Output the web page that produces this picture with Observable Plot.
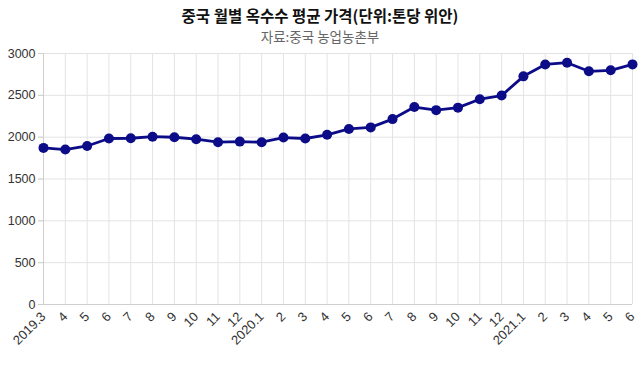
<!DOCTYPE html>
<html>
<head>
<meta charset="utf-8">
<script src="https://cdn.jsdelivr.net/npm/d3@7"></script>
<script src="https://cdn.jsdelivr.net/npm/@observablehq/plot@0.6"></script>
<style>
  html, body { margin: 0; padding: 0; background: #fff; }
  body { width: 640px; height: 366px; overflow: hidden; font-family: "Liberation Sans", Arial, "Noto Sans CJK KR", sans-serif; }
  #title { height: 28px; line-height: 30px; text-align: center; font-size: 15.5px; font-weight: bold; color: #111; font-family: "Noto Sans CJK KR", sans-serif; }
  #subtitle { height: 17px; line-height: 17px; text-align: center; font-size: 13.5px; color: #666; font-family: "Noto Sans CJK KR", sans-serif; }
</style>
</head>
<body>
<div id="title">중국 월별 옥수수 평균 가격(단위:톤당 위안)</div>
<div id="subtitle">자료:중국 농업농촌부</div>
<div id="chart"></div>
<script>
const months = ["2019.3","2019.4","2019.5","2019.6","2019.7","2019.8","2019.9","2019.10","2019.11","2019.12",
  "2020.1","2020.2","2020.3","2020.4","2020.5","2020.6","2020.7","2020.8","2020.9","2020.10","2020.11","2020.12",
  "2021.1","2021.2","2021.3","2021.4","2021.5","2021.6"];
const tickLabels = ["2019.3","4","5","6","7","8","9","10","11","12",
  "2020.1","2","3","4","5","6","7","8","9","10","11","12",
  "2021.1","2","3","4","5","6"];
const prices = [1872, 1852, 1895, 1984, 1987, 2006, 1999, 1976, 1940, 1947,
  1940, 1995, 1984, 2028, 2098, 2117, 2216, 2360, 2323, 2353, 2454, 2497,
  2727, 2869, 2890, 2787, 2799, 2870];
const yTicks = [0, 500, 1000, 1500, 2000, 2500, 3000];

const idx = months.map((m, i) => i);
const data = months.map((m, i) => ({i, month: m, price: prices[i]}));
const color = "#0c0c88";

const chart = Plot.plot({
  width: 640,
  height: 321,
  marginTop: 8,
  marginBottom: 62,
  marginLeft: 43,
  marginRight: 8,
  style: {fontSize: "13px", fontFamily: "'Liberation Sans', Arial, sans-serif", color: "#333", background: "#fff"},
  x: {type: "linear", domain: [0, months.length - 1], label: null},
  y: {domain: [0, 3000], label: null},
  marks: [
    Plot.gridX(idx, {stroke: "#e3e3e3", strokeOpacity: 1}),
    Plot.gridY(yTicks, {stroke: "#e3e3e3", strokeOpacity: 1, insetLeft: -5}),
    Plot.ruleY([0], {stroke: "#cfcfcf"}),
    Plot.ruleX([0], {stroke: "#cfcfcf"}),
    Plot.axisY(yTicks, {tickSize: 5, tickPadding: 3, tickFormat: d => String(d), stroke: "#cfcfcf", fill: "#333", fontSize: 12.5}),
    Plot.axisX(idx, {tickSize: 0, tickPadding: 10, tickRotate: -45, tickFormat: i => tickLabels[i], fill: "#333", fontSize: 13}),
    Plot.line(data, {x: "i", y: "price", stroke: color, strokeWidth: 2.8}),
    Plot.dot(data, {x: "i", y: "price", r: 5, fill: color, stroke: "none"})
  ]
});
document.getElementById("chart").appendChild(chart);
</script>
</body>
</html>
